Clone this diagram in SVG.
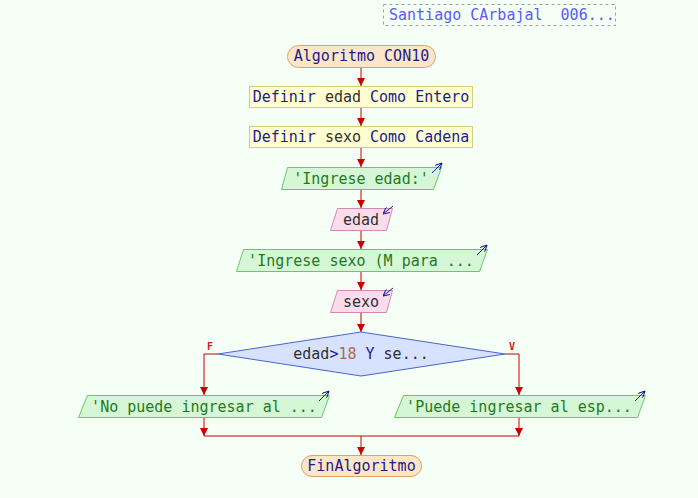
<svg xmlns="http://www.w3.org/2000/svg" width="698" height="498" viewBox="0 0 698 498">
<defs>
<marker id="ar" viewBox="0 0 8 8" refX="8" refY="4" markerWidth="8" markerHeight="8" markerUnits="userSpaceOnUse" orient="auto"><path d="M0,0 L8,4 L0,8 z" fill="#cc0000"/></marker>
<marker id="ab" viewBox="0 0 8 8" refX="8" refY="4" markerWidth="7" markerHeight="7" markerUnits="userSpaceOnUse" orient="auto"><path d="M0,0 L8,4 L0,8" fill="none" stroke="#1a1a9a" stroke-width="1.2"/></marker>
</defs>
<style>
text{font-family:"DejaVu Sans Mono","Liberation Mono",monospace;font-size:15px;white-space:pre}
.kw{fill:#1c1c8c}
.var{fill:#303030}
.str{fill:#1f7a1f}
.num{fill:#b06a4a}
.term{fill:#fde6c8;stroke:#d6a565;stroke-width:1}
.proc{fill:#ffffd2;stroke:#d6cf7a;stroke-width:1}
.out{fill:#d6f7d6;stroke:#6cc46c;stroke-width:1}
.in{fill:#fcdcec;stroke:#d48aaa;stroke-width:1}
.dec{fill:#d6e2ff;stroke:#4a64c8;stroke-width:1}
.cn{fill:none;stroke:#cc0000;stroke-width:1}
.ca{stroke:#1a1a9a;stroke-width:1;fill:none}
.lbl{font-size:10px;font-weight:bold;fill:#cc2020}
</style>
<rect x="0" y="0" width="698" height="498" fill="#f5fff5"/>
<g id="title">
<rect x="383.5" y="4.5" width="232" height="21" fill="none" stroke="#a0a0a0" stroke-dasharray="3,3"/>
<text x="389" y="20" fill="#5a5aff">Santiago CArbajal  006...</text>
</g>
<g id="connectors">
<line class="cn" x1="361" y1="67" x2="361" y2="86" marker-end="url(#ar)"/>
<line class="cn" x1="361" y1="108" x2="361" y2="126" marker-end="url(#ar)"/>
<line class="cn" x1="361" y1="148" x2="361" y2="167" marker-end="url(#ar)"/>
<line class="cn" x1="361" y1="190" x2="361" y2="208" marker-end="url(#ar)"/>
<line class="cn" x1="361" y1="231" x2="361" y2="249" marker-end="url(#ar)"/>
<line class="cn" x1="361" y1="272" x2="361" y2="290" marker-end="url(#ar)"/>
<line class="cn" x1="361" y1="313" x2="361" y2="332" marker-end="url(#ar)"/>
<polyline class="cn" points="218,354 204,354 204,395" marker-end="url(#ar)"/>
<polyline class="cn" points="505,354 519,354 519,395" marker-end="url(#ar)"/>
<line class="cn" x1="204" y1="417" x2="204" y2="436" marker-end="url(#ar)"/>
<line class="cn" x1="519" y1="417" x2="519" y2="436" marker-end="url(#ar)"/>
<line class="cn" x1="204" y1="436" x2="519" y2="436"/>
<line class="cn" x1="361" y1="436" x2="361" y2="455" marker-end="url(#ar)"/>
<text class="lbl" x="207" y="350">F</text>
<text class="lbl" x="509" y="350">V</text>
</g>
<g id="start">
<rect class="term" x="287.5" y="45.5" width="148" height="22" rx="11"/>
<text class="kw" x="361.5" y="61" text-anchor="middle">Algoritmo CON10</text>
</g>
<g id="def-edad">
<rect class="proc" x="249.5" y="86.5" width="223" height="21"/>
<text x="361" y="102" text-anchor="middle"><tspan class="kw">Definir </tspan><tspan class="var">edad</tspan><tspan class="kw"> Como Entero</tspan></text>
</g>
<g id="def-sexo">
<rect class="proc" x="249.5" y="126.5" width="223" height="21"/>
<text x="361" y="142" text-anchor="middle"><tspan class="kw">Definir </tspan><tspan class="var">sexo</tspan><tspan class="kw"> Como Cadena</tspan></text>
</g>
<g id="out-edad">
<polygon class="out" points="287.5,167.5 441.5,167.5 433.5,189.5 281.5,189.5"/>
<text class="str" x="361" y="184" text-anchor="middle">'Ingrese edad:'</text>
<line class="ca" x1="432" y1="173" x2="442" y2="163" marker-end="url(#ab)"/>
</g>
<g id="in-edad">
<polygon class="in" points="337.5,208.5 392.5,208.5 386.5,230.5 330.5,230.5"/>
<text class="var" x="361" y="225" text-anchor="middle">edad</text>
<line class="ca" x1="393" y1="206" x2="383" y2="214" marker-end="url(#ab)"/>
</g>
<g id="out-sexo">
<polygon class="out" points="243.5,249.5 487.5,249.5 479.5,271.5 236.5,271.5"/>
<text class="str" x="361" y="266" text-anchor="middle">'Ingrese sexo (M para ...</text>
<line class="ca" x1="477" y1="255" x2="487" y2="245" marker-end="url(#ab)"/>
</g>
<g id="in-sexo">
<polygon class="in" points="337.5,290.5 392.5,290.5 386.5,312.5 330.5,312.5"/>
<text class="var" x="361" y="307" text-anchor="middle">sexo</text>
<line class="ca" x1="393" y1="288" x2="383" y2="296" marker-end="url(#ab)"/>
</g>
<g id="decision">
<polygon class="dec" points="361,332 505,354 361,376 218,354"/>
<text x="361" y="359" text-anchor="middle"><tspan class="var">edad</tspan><tspan class="kw">&gt;</tspan><tspan class="num">18</tspan><tspan class="kw"> Y </tspan><tspan class="var">se...</tspan></text>
</g>
<g id="out-no">
<polygon class="out" points="87.5,395.5 329.5,395.5 321.5,417.5 78.5,417.5"/>
<text class="str" x="204" y="412" text-anchor="middle">'No puede ingresar al ...</text>
<line class="ca" x1="319" y1="401" x2="329" y2="391" marker-end="url(#ab)"/>
</g>
<g id="out-si">
<polygon class="out" points="403.5,395.5 645.5,395.5 637.5,417.5 394.5,417.5"/>
<text class="str" x="519" y="412" text-anchor="middle">'Puede ingresar al esp...</text>
<line class="ca" x1="635" y1="401" x2="645" y2="391" marker-end="url(#ab)"/>
</g>
<g id="end">
<rect class="term" x="301.5" y="455.5" width="120" height="21" rx="10.5"/>
<text class="kw" x="361.5" y="471" text-anchor="middle">FinAlgoritmo</text>
</g>
</svg>
